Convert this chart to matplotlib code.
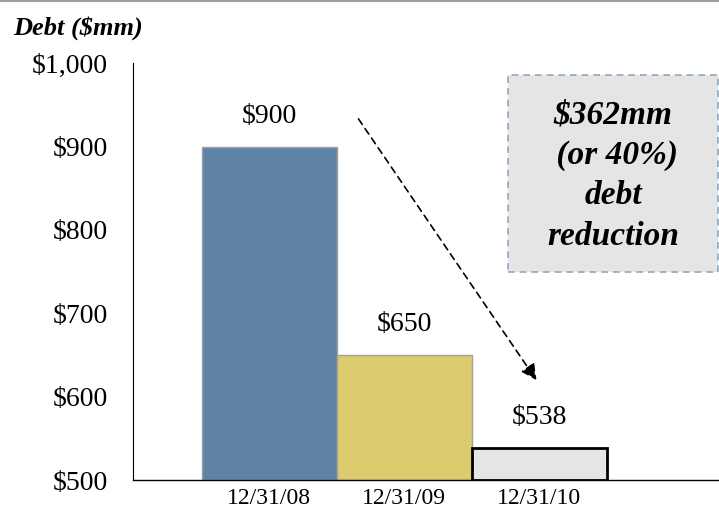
import matplotlib.pyplot as plt
from matplotlib.patches import FancyArrowPatch, Rectangle

plt.rcParams['font.family'] = ['Liberation Serif', 'DejaVu Serif']

dates = ['12/31/08', '12/31/09', '12/31/10']
debt = [900, 650, 538]
bar_colors = ['#5F83A5', '#DCCC6E', '#E5E5E5']
edge_colors = ['#A0A0A0', '#A0A0A0', 'black']
edge_widths = [1.0, 1.0, 2.0]
y_ticks = [500, 600, 700, 800, 900, 1000]
y_tick_labels = ['$500', '$600', '$700', '$800', '$900', '$1,000']

fig = plt.figure(figsize=(7.19, 5.14), dpi=100)
ax = fig.add_axes([0.185, 0.066, 0.815, 0.811])

x = list(range(len(dates)))
ax.bar(x, [d - 500 for d in debt], bottom=500, width=1.0,
       color=bar_colors, edgecolor=edge_colors, linewidth=edge_widths,
       zorder=2)

for xi, d in zip(x, debt):
    ax.annotate('$%d' % d, (xi, d), xytext=(0, 22), textcoords='offset points',
                ha='center', va='center', fontsize=20)

ax.set_xlim(-1.01, 3.33)
ax.set_ylim(500, 1000)
ax.set_xticks(x)
ax.set_xticklabels(dates, fontsize=17)
ax.set_yticks(y_ticks)
ax.set_yticklabels(y_tick_labels, fontsize=20)
ax.tick_params(axis='y', length=0, pad=18)
ax.tick_params(axis='x', length=0, pad=6)
for side in ['top', 'right']:
    ax.spines[side].set_visible(False)
ax.spines['left'].set_linewidth(0.8)
ax.spines['bottom'].set_linewidth(1.0)

# dashed arrow showing the decline
arrow = FancyArrowPatch((0.648, 936), (1.99, 617), arrowstyle='-|>',
                        mutation_scale=24, linestyle=(0, (4, 3)),
                        color='black', linewidth=1.2, zorder=3)
ax.add_patch(arrow)

# callout box
fig.add_artist(Rectangle((0.7066, 0.4708), 0.292, 0.383,
                         transform=fig.transFigure, facecolor='#E5E5E5',
                         edgecolor='#8EA9C1', linestyle=(0, (4, 3)),
                         linewidth=1.2))
fig.text(0.8526, 0.658, '$362mm\n (or 40%)\ndebt\nreduction', ha='center',
         va='center', fontsize=24, fontweight='bold', fontstyle='italic',
         linespacing=1.38)

fig.text(0.018, 0.945, 'Debt ($mm)', fontsize=19, fontweight='bold',
         fontstyle='italic', va='center')

# thin rule along the top edge
fig.add_artist(plt.Line2D([0, 1], [0.998, 0.998], color='#A0A0A0',
                          linewidth=1.5, transform=fig.transFigure))

fig.savefig('out.png', dpi=100)
